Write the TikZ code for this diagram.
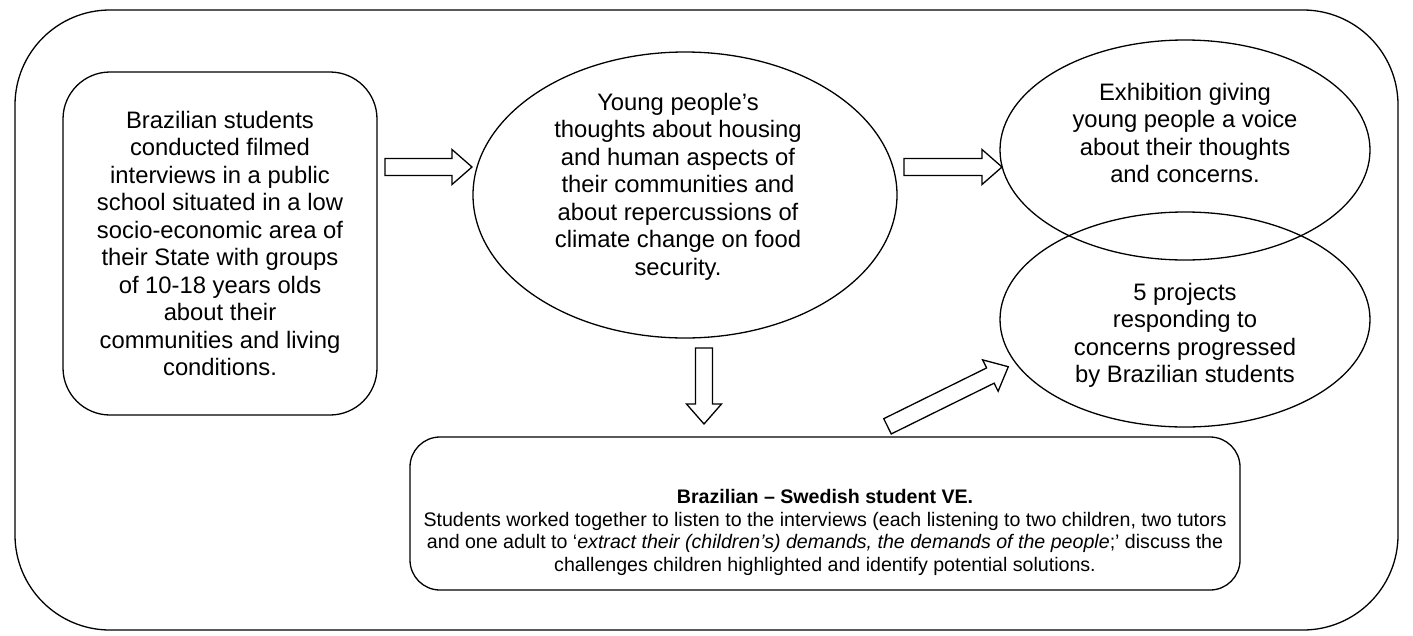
\documentclass[tikz,border=0pt]{standalone}
\usepackage{fontspec}
\setmainfont{Liberation Sans}
\usetikzlibrary{shapes.geometric,calc}
\tikzset{
  box/.style={draw, line width=1.3pt, inner sep=0pt},
  txt/.style={align=center, inner sep=0pt, anchor=north, font=\fontsize{23.8}{27.5}\selectfont},
  btxt/.style={align=center, inner sep=0pt, anchor=north, font=\fontsize{19.6}{22.6}\selectfont},
  blockarrow/.style={draw, fill=white, line width=1.3pt, line join=miter},
}
\newcommand\blockarr[2]{%
  \draw[blockarrow] let \p1=($(#2)-(#1)$), \n1={atan2(\y1,\x1)}, \n2={veclen(\x1,\y1)} in
    [shift={(#1)}, rotate=\n1]
    (0,8.5) -- ({\n2-20},8.5) -- ({\n2-20},17.5) -- (\n2,0) -- ({\n2-20},-17.5) -- ({\n2-20},-8.5) -- (0,-8.5) -- cycle;}
\begin{document}
\begin{tikzpicture}[x=1pt,y=-1pt]
\useasboundingbox (0,0) rectangle (1413,635);
% outer frame
\node[box, rounded corners=95pt, minimum width=1383pt, minimum height=620pt] (frame) at (706.5,320) {};
% left box
\node[box, rounded corners=47pt, minimum width=314pt, minimum height=343pt] (src) at (220,243.5) {};
\node[txt] (srct) at (220,111) {Brazilian students\\conducted filmed\\interviews in a public\\school situated in a low\\socio-economic area of\\their State with groups\\of 10-18 years olds\\about their\\communities and living\\conditions.};
% ellipse 1
\node[box, ellipse, minimum width=424pt, minimum height=286pt] (e1) at (685,195) {};
\node[txt] (e1t) at (678,93) {Young people’s\\thoughts about housing\\and human aspects of\\their communities and\\about repercussions of\\climate change on food\\security.};
% ellipse 2
\node[box, ellipse, minimum width=370pt, minimum height=220pt] (e2) at (1185,150) {};
\node[txt] (e2t) at (1185,83) {Exhibition giving\\young people a voice\\about their thoughts\\and concerns.};
% ellipse 3
\node[box, ellipse, minimum width=370pt, minimum height=215pt] (e3) at (1185,319.5) {};
\node[txt] (e3t) at (1185,283) {5 projects\\responding to\\concerns progressed\\by Brazilian students};
% bottom box
\node[box, rounded corners=30pt, minimum width=830pt, minimum height=153pt] (ve) at (825,513.5) {};
\node[btxt] (vet) at (825,489) {\textbf{Brazilian – Swedish student VE.}\\Students worked together to listen to the interviews (each listening to two children, two tutors\\and one adult to ‘\textit{extract their (children’s) demands, the demands of the people};’ discuss the\\challenges children highlighted and identify potential solutions.};
% arrows
\coordinate (a1s) at (385,167);
\coordinate (a1e) at (472,167);
\coordinate (a2s) at (904,167);
\coordinate (a2e) at (1002,167);
\coordinate (a3s) at (704,348);
\coordinate (a3e) at (704,424);
\coordinate (a4s) at (887.5,426.3);
\coordinate (a4e) at (1008.3,366.7);
\blockarr{a1s}{a1e}
\blockarr{a2s}{a2e}
\blockarr{a3s}{a3e}
\blockarr{a4s}{a4e}
\end{tikzpicture}
\end{document}
